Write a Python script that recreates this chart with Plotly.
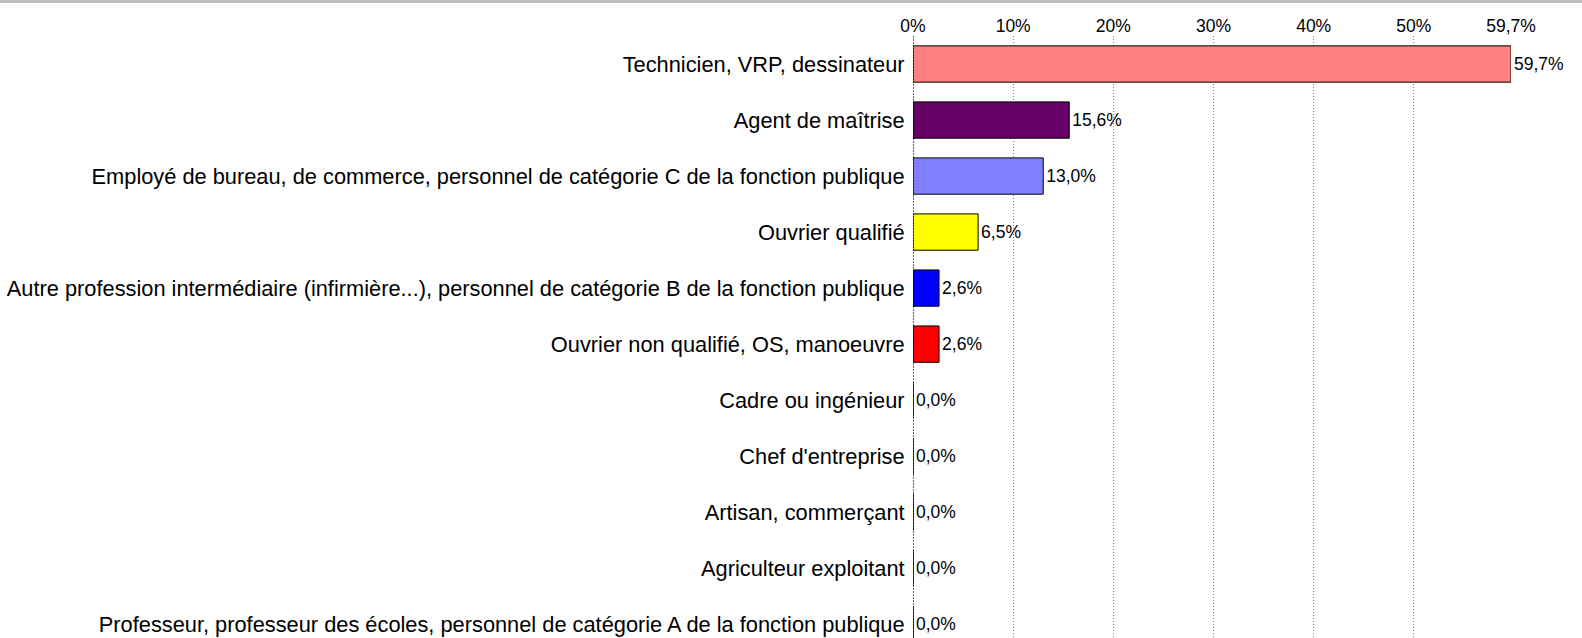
import plotly.graph_objects as go

categories = [
    "Technicien, VRP, dessinateur",
    "Agent de maîtrise",
    "Employé de bureau, de commerce, personnel de catégorie C de la fonction publique",
    "Ouvrier qualifié",
    "Autre profession intermédiaire (infirmière...), personnel de catégorie B de la fonction publique",
    "Ouvrier non qualifié, OS, manoeuvre",
    "Cadre ou ingénieur",
    "Chef d'entreprise",
    "Artisan, commerçant",
    "Agriculteur exploitant",
    "Professeur, professeur des écoles, personnel de catégorie A de la fonction publique",
]
values = [59.7, 15.6, 13.0, 6.5, 2.6, 2.6, 0.0, 0.0, 0.0, 0.0, 0.0]
bar_colors = ["#FF8080", "#660066", "#8080FF", "#FFFF00", "#0000FF", "#FF0000",
              "#0066CC", "#CCCCFF", "#000080", "#FF00FF", "#00FFFF"]
tick_vals = [0, 10, 20, 30, 40, 50, 59.7]
tick_text = ["0%", "10%", "20%", "30%", "40%", "50%", "59,7%"]

W, H = 1582, 638
ML, MR, MT, MB = 913, 71, 36, 0
plot_h = H - MT - MB
plot_w = W - ML - MR

fig = go.Figure(go.Bar(
    y=categories,
    x=values,
    orientation="h",
    marker=dict(color=bar_colors, line=dict(color="#000000", width=1)),
    text=[f"{v:.1f}%".replace(".", ",") for v in values],
    textposition="outside",
    textfont=dict(family="Liberation Sans, Arial, sans-serif", size=17.5, color="#000000"),
    cliponaxis=False,
    constraintext="none",
    hoverinfo="skip",
))

fig.update_layout(
    width=W, height=H,
    margin=dict(l=ML, r=MR, t=MT, b=MB, pad=0),
    paper_bgcolor="#FFFFFF",
    plot_bgcolor="#FFFFFF",
    bargap=0.352,
    showlegend=False,
    font=dict(family="Liberation Sans, Arial, sans-serif", color="#000000"),
    xaxis=dict(
        side="top",
        range=[0, 59.7],
        tickvals=tick_vals,
        ticktext=tick_text,
        showgrid=True,
        gridcolor="#7F7F7F",
        griddash="1px,2px",
        gridwidth=1,
        zeroline=False,
        showline=False,
        ticks="",
        tickfont=dict(size=17.5),
        fixedrange=True,
    ),
    yaxis=dict(
        type="category",
        categoryorder="array",
        categoryarray=categories,
        range=[10.246, -0.5],
        showgrid=False,
        zeroline=False,
        showline=False,
        ticks="outside",
        ticklen=3,
        tickcolor="rgba(0,0,0,0)",
        tickfont=dict(size=21.8),
        fixedrange=True,
    ),
    shapes=[
        dict(type="line", xref="x", yref="paper", x0=0, x1=0, y0=0, y1=1,
             line=dict(color="#000000", width=1.2, dash="2px,1px")),
        dict(type="line", xref="paper", yref="paper",
             x0=-ML / plot_w, x1=(W - ML) / plot_w,
             y0=1 + (MT - 1.5) / plot_h, y1=1 + (MT - 1.5) / plot_h,
             line=dict(color="#C0C0C0", width=3)),
    ],
)

fig.write_html(
    "out.html",
    config={"displayModeBar": False, "staticPlot": True},
    post_script="document.body.style.margin='0';document.body.style.padding='0';document.body.style.overflow='hidden';",
)
